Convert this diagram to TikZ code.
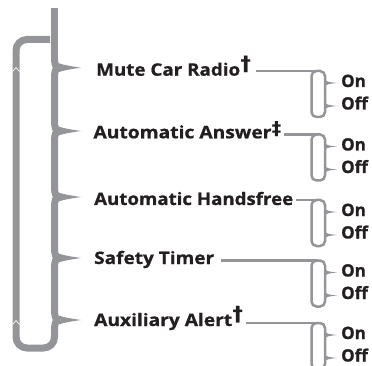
\documentclass[tikz,border=0pt]{standalone}
\usepackage{fontspec}
\setmainfont{Open Sans}[BoldFeatures={FakeBold=0.8}]
\newfontfamily\djv{DejaVu Sans}[BoldFeatures={FakeBold=0.8}]
\definecolor{lg}{RGB}{147,149,152}
\definecolor{txt}{RGB}{35,31,32}
\newcommand\mydag{\hspace{0.5pt}\raisebox{5.5pt}{\djv\bfseries\fontsize{20}{20}\selectfont †}}
\newcommand\myddag{\hspace{0.5pt}\raisebox{4pt}{\djv\bfseries\fontsize{18}{18}\selectfont ‡}}
\newcommand\fitw[2]{\resizebox{#1}{\height}{#2}}
\begin{document}
\begin{tikzpicture}[x=1pt,y=-1pt,
  mainline/.style={draw=lg,line width=7pt},
  subline/.style={draw=lg,line width=2.5pt},
  lbl/.style={anchor=base west,inner sep=0pt,font=\fontsize{17.2}{17.2}\selectfont\bfseries,text=txt},
  opt/.style={anchor=base west,inner sep=0pt,font=\fontsize{17}{17}\selectfont\bfseries,text=txt},
  notch/.style={draw=white,line width=0.7pt}]
\useasboundingbox (0,0) rectangle (372,366);
\clip (0,0) rectangle (372,366);
% outer loop
\draw[mainline,rounded corners=11pt] (50,39.5) -- (16,39.5) -- (16,348) -- (54.5,348) -- (54.5,329);
\draw[notch] (12.5,71.5) -- (16,67.5) -- (19.5,71.5);
\draw[notch] (12.5,324.5) -- (16,320.5) -- (19.5,324.5);
% main line with braces
\draw[mainline] (54.5,8) -- (54.5,57.7);
\foreach \t/\n in {67.7/121, 131/187, 197/248, 258/310, 320/329}{
  \draw[mainline] (54.5,\t-10) .. controls (54.5,\t-3) and (56,\t) .. (58.5,\t);
  \draw[mainline] (58.5,\t) .. controls (56,\t) and (54.5,\t+3) .. (54.5,\t+10) -- (54.5,\n);
  \fill[lg] (57,\t-5) .. controls (62,\t-3.2) and (68,\t-1.8) .. (81,\t) .. controls (68,\t+1.8) and (62,\t+3.2) .. (57,\t+5) -- cycle;
}
% labels
\node[lbl] (mute) at (96,75.7) {\fitw{144pt}{Mute Car Radio}\mydag};
\node[lbl] (answer) at (93.3,138.3) {\fitw{178pt}{Automatic Answer}\myddag};
\node[lbl] (hands) at (94,205) {\fitw{199pt}{Automatic Handsfree}};
\node[lbl] (safety) at (94,264) {\fitw{120pt}{Safety Timer}};
\node[lbl] (alert) at (94,326) {\fitw{138pt}{Auxiliary Alert}\mydag};
% sub brackets
\foreach \h/\sx/\nm in {71/255.5/a, 134.5/283.5/b, 200/296/c, 260.5/221/d, 323/245.5/e}{
  \coordinate (s\nm) at (\sx,\h);
  \coordinate (r\nm) at (311.5,\h);
  \draw[subline] (s\nm) -- (r\nm) -- (318,\h);
  \draw[subline,rounded corners=5pt] (311.5,\h) rectangle (325,\h+46);
  \foreach \y in {\h+12,\h+35}{
    \fill[lg] (325,\y-3.5) .. controls (326.5,\y-1) and (330,\y-0.8) .. (337,\y) .. controls (330,\y+0.8) and (326.5,\y+1) .. (325,\y+3.5) -- cycle;
  }
  \node[opt] (on\nm) at (341,\h+16) {On};
  \node[opt] (off\nm) at (341,\h+38.5) {Off};
}
\end{tikzpicture}
\end{document}
